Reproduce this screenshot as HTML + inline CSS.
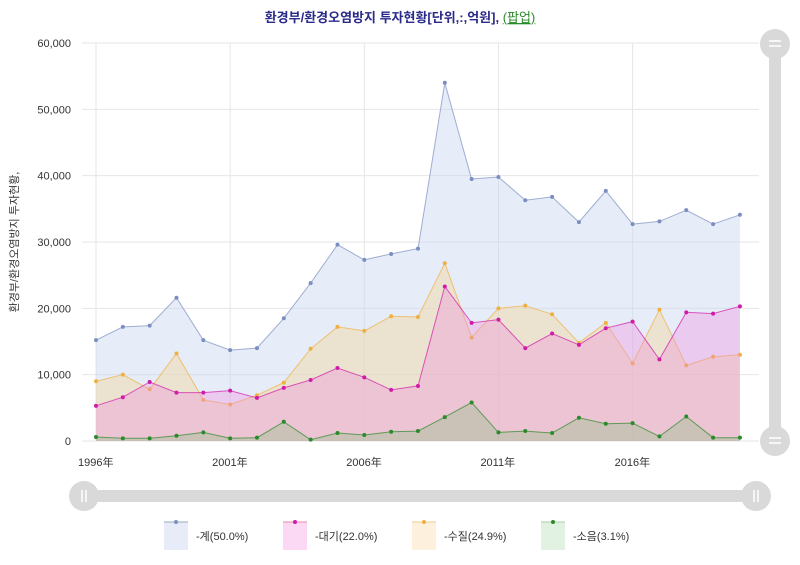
<!DOCTYPE html>
<html><head><meta charset="utf-8"><style>
body{margin:0;background:#fff;width:800px;height:560px;overflow:hidden;font-family:"Liberation Sans","Noto Sans CJK KR",sans-serif}
</style></head><body>
<svg id="s" width="800" height="560" xmlns="http://www.w3.org/2000/svg" font-family="Liberation Sans, Noto Sans CJK KR, sans-serif">
<text x="400" y="22" text-anchor="middle" font-size="13" font-weight="bold" fill="#2a2a8a">환경부/환경오염방지 투자현황[단위,:,억원], <tspan fill="#2a8a2a" text-decoration="underline" font-weight="normal">(팝업)</tspan></text>
<g id="grid" stroke="#e6e6e6" stroke-width="1"></g>
<g id="areas"></g>
<g font-size="11" fill="#333" text-anchor="end" id="ylab"></g>
<g font-size="11" fill="#333" id="xlab"></g>
<text transform="translate(18,242) rotate(-90)" text-anchor="middle" font-size="11" fill="#333">환경부/환경오염방지 투자현황,</text>
<rect x="769" y="44" width="12" height="398" fill="#d9d9d9"/>
<circle cx="775" cy="44" r="15" fill="#d9d9d9"/><circle cx="775" cy="441" r="15" fill="#d9d9d9"/>
<g stroke="#fff" stroke-width="1.5"><line x1="769" y1="41" x2="781" y2="41"/><line x1="769" y1="46" x2="781" y2="46"/><line x1="769" y1="438" x2="781" y2="438"/><line x1="769" y1="443" x2="781" y2="443"/></g>
<rect x="84" y="490" width="672" height="12" fill="#d9d9d9"/>
<circle cx="84" cy="496" r="15" fill="#d9d9d9"/><circle cx="756" cy="496" r="15" fill="#d9d9d9"/>
<g stroke="#fff" stroke-width="1.5"><line x1="82" y1="490" x2="82" y2="502"/><line x1="86" y1="490" x2="86" y2="502"/><line x1="754" y1="490" x2="754" y2="502"/><line x1="758" y1="490" x2="758" y2="502"/></g>
<g font-size="11" fill="#333">
<rect x="164" y="522" width="24" height="28" fill="#e8ecf8"/><line x1="164" y1="522" x2="188" y2="522" stroke="#9ab" /><circle cx="176" cy="522" r="2" fill="#7a8fc0"/><text x="196" y="540">-계(50.0%)</text>
<rect x="283" y="522" width="24" height="28" fill="#fbd9f5"/><line x1="283" y1="522" x2="307" y2="522" stroke="#e8a" /><circle cx="295" cy="522" r="2" fill="#d01aa8"/><text x="315" y="540">-대기(22.0%)</text>
<rect x="412" y="522" width="24" height="28" fill="#fdf0dc"/><line x1="412" y1="522" x2="436" y2="522" stroke="#ec9" /><circle cx="424" cy="522" r="2" fill="#f0b040"/><text x="444" y="540">-수질(24.9%)</text>
<rect x="541" y="522" width="24" height="28" fill="#e2f2e2"/><line x1="541" y1="522" x2="565" y2="522" stroke="#aca" /><circle cx="553" cy="522" r="2" fill="#2a8a2a"/><text x="573" y="540">-소음(3.1%)</text>
</g>
</svg>
<script>
const NS="http://www.w3.org/2000/svg";
const X=i=>96+i*26.83, Y=v=>441-v*398/60000;
function el(p,t,a,txt){const e=document.createElementNS(NS,t);for(const k in a)e.setAttribute(k,a[k]);if(txt)e.textContent=txt;document.getElementById(p).appendChild(e);}
for(let v=0;v<=60000;v+=10000){el('grid','line',{x1:82,x2:759,y1:Y(v),y2:Y(v)});el('ylab','text',{x:71,y:Y(v)+4},v.toLocaleString('en-US'));}
for(let k=0;k<5;k++){const x=X(k*5);el('grid','line',{x1:x,x2:x,y1:43,y2:441});el('xlab','text',{x:x-18,y:466},(1996+k*5)+'年');}
const S=[
["#7a8fc0","rgba(200,212,240,0.45)",[15200,17200,17400,21600,15200,13700,14000,18500,23800,29600,27300,28200,29000,54000,39500,39800,36300,36800,33000,37700,32700,33100,34800,32700,34100]],
["#f0b040","rgba(245,215,160,0.45)",[9000,10000,7800,13200,6200,5500,6900,8800,13900,17200,16600,18800,18700,26800,15600,20000,20400,19100,14800,17800,11700,19800,11400,12700,13000]],
["#d01aa8","rgba(240,140,220,0.35)",[5300,6600,8900,7300,7300,7600,6500,8000,9200,11000,9600,7700,8300,23300,17800,18300,14000,16200,14500,17000,18000,12300,19400,19200,20300]],
["#2a8a2a","rgba(150,190,140,0.4)",[600,400,400,800,1300,400,500,2900,200,1200,900,1400,1500,3600,5800,1300,1500,1200,3500,2600,2700,700,3700,500,500]]];
for(const [c,f,d] of S){const pts=d.map((v,i)=>X(i).toFixed(1)+','+Y(v).toFixed(1)).join(' ');
el('areas','polygon',{points:X(0)+','+Y(0)+' '+pts+' '+X(24)+','+Y(0),fill:f});
el('areas','polyline',{points:pts,fill:'none',stroke:c,'stroke-width':1,'stroke-opacity':0.7});
d.forEach((v,i)=>el('areas','circle',{cx:X(i),cy:Y(v),r:2,fill:c}));}
</script>
</body></html>
